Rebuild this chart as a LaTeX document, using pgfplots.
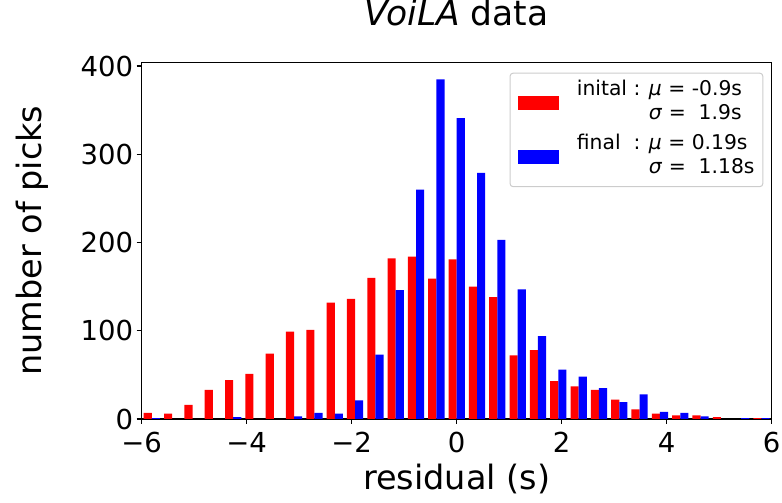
\documentclass[border=0pt]{standalone}
\usepackage{fontspec}
\setmainfont{DejaVu Sans}
\usepackage{pgfplots}
\pgfplotsset{compat=1.18}
\newcommand\legfont{\fontsize{20.3bp}{24bp}\selectfont}
\begin{document}
\begin{tikzpicture}
\useasboundingbox (0,0) rectangle (782bp,503bp);
\begin{axis}[
  at={(141.7bp,84bp)}, anchor=south west,
  scale only axis, width=630bp, height=356.7bp,
  xmin=-6, xmax=6, ymin=0, ymax=404.25,
  axis line style={line width=1.1bp},
  every tick/.style={black, line width=1.1bp},
  major tick length=5bp,
  tick align=outside, tick pos=left,
  xtick={-6,-4,-2,0,2,4,6},
  xticklabels={−6,−4,−2,0,2,4,6},
  ytick={0,100,200,300,400},
  yticklabels={0,100,200,300,400},
  tick label style={font=\fontsize{27.5bp}{32bp}\selectfont},
  xticklabel style={yshift=-5bp},
  title={\textit{VoiLA} data},
  title style={font=\fontsize{34.5bp}{40bp}\selectfont, at={(axis description cs:0.5,1.0858)}, anchor=base, inner sep=0pt},
  xlabel={residual (s)},
  xlabel style={font=\fontsize{33.5bp}{40bp}\selectfont, at={(axis description cs:0.5,-0.199)}, anchor=base, inner sep=0pt},
  ylabel={number of picks},
  ylabel style={font=\fontsize{33.5bp}{40bp}\selectfont, at={(axis description cs:-0.1587,0.5)}, anchor=base, inner sep=0pt},
  legend cell align=left,
  legend style={at={(axis description cs:0.9867,0.9709)}, anchor=north east,
    draw=black!20, line width=1bp, rounded corners=3bp, fill=white, fill opacity=0.8, text opacity=1,
    inner xsep=8.3bp, inner ysep=5.5bp, row sep=6.5bp,
    nodes={inner sep=0pt, text depth={}}},
]
\addplot[ybar, bar width=0.15484, bar shift=-0.07742, fill=red, draw=none,
  legend image code/.code={\fill[red, fill opacity=1, rounded corners=0pt] (0bp,-7bp) rectangle (41bp,7bp);}]
coordinates {(-5.8065,7) (-5.4194,6) (-5.0323,16) (-4.6452,33) (-4.2581,44) (-3.8710,51) (-3.4839,74) (-3.0968,99) (-2.7097,101) (-2.3226,132) (-1.9355,136) (-1.5484,160) (-1.1613,182) (-0.7742,184) (-0.3871,159) (0,181) (0.3871,150) (0.7742,138) (1.1613,72) (1.5484,78) (1.9355,43) (2.3226,37) (2.7097,33) (3.0968,22) (3.4839,11) (3.8710,6) (4.2581,4) (4.6452,4) (5.0323,2) (5.4194,0) (5.8065,1)};
\addlegendentry{\hspace*{17.5bp}{\legfont\begin{tabular}{@{}l@{}}inital : \textit{μ} = -0.9s\\\hphantom{inital : }\textit{σ} =~~1.9s\end{tabular}}}
\addplot[ybar, bar width=0.15484, bar shift=0.07742, fill=blue, draw=none,
  legend image code/.code={\fill[blue, fill opacity=1, rounded corners=0pt] (0bp,-7bp) rectangle (41bp,7bp);}]
coordinates {(-5.8065,1) (-5.4194,0) (-5.0323,0) (-4.6452,0) (-4.2581,2) (-3.8710,0) (-3.4839,0) (-3.0968,3) (-2.7097,7) (-2.3226,6) (-1.9355,21) (-1.5484,73) (-1.1613,146) (-0.7742,260) (-0.3871,385) (0,341) (0.3871,279) (0.7742,203) (1.1613,147) (1.5484,94) (1.9355,56) (2.3226,48) (2.7097,35) (3.0968,19) (3.4839,28) (3.8710,8) (4.2581,7) (4.6452,3) (5.0323,0) (5.4194,1) (5.8065,1)};
\addlegendentry{\hspace*{17.5bp}{\legfont\begin{tabular}{@{}l@{}}final~~: \textit{μ} = 0.19s\\\hphantom{final~~: }\textit{σ} =~~1.18s\end{tabular}}}
\end{axis}
\end{tikzpicture}
\end{document}
